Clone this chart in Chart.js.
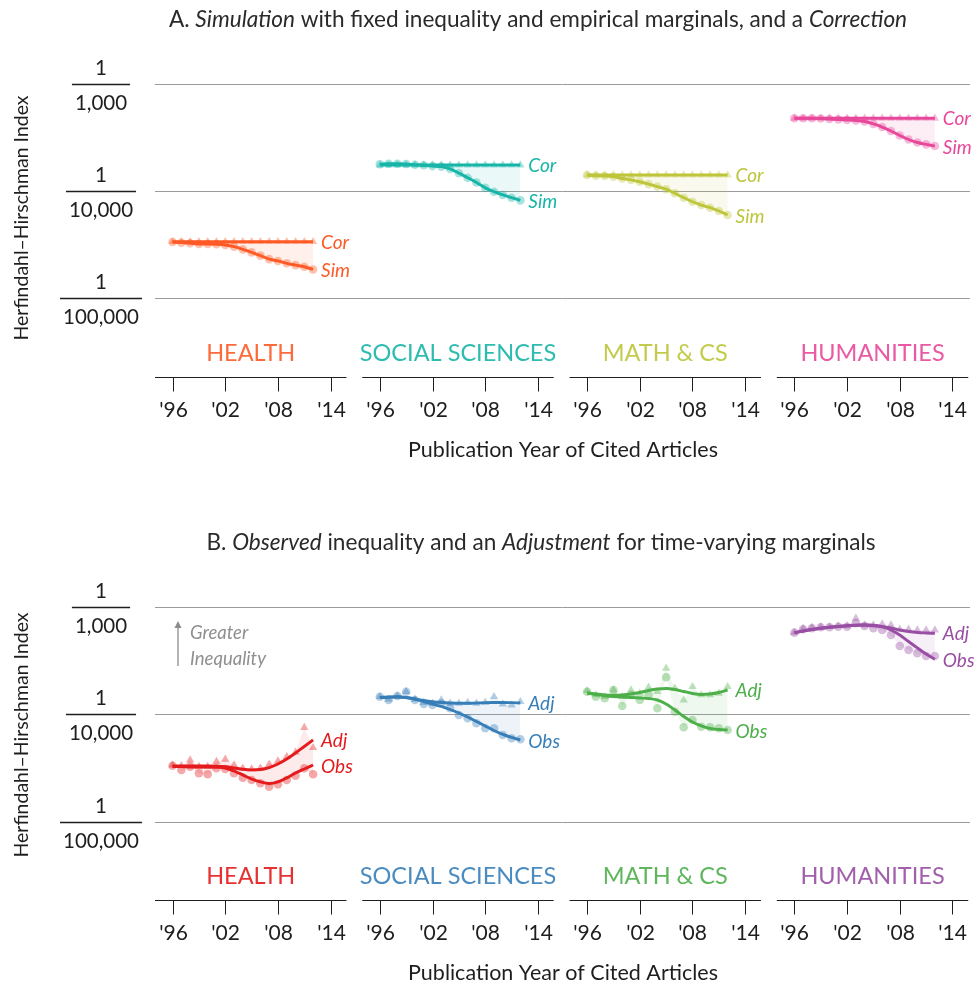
<!DOCTYPE html>
<html><head><meta charset="utf-8">
<script src="https://cdn.jsdelivr.net/npm/chart.js@4"></script>
<style>
html,body{margin:0;padding:0;background:#fff;}
#wrap{position:relative;width:977px;height:984px;overflow:hidden;}
canvas{position:absolute;left:0;}
</style></head><body>
<div id="wrap">
<canvas id="cA" width="977" height="490" style="top:0"></canvas>
<canvas id="cB" width="977" height="494" style="top:490px"></canvas>
</div>
<script>
// ---------- categories & ticks ----------
const years = [1996,1997,1998,1999,2000,2001,2002,2003,2004,2005,2006,2007,2008,2009,2010,2011,2012];
const fieldNames = ['HEALTH','SOCIAL SCIENCES','MATH & CS','HUMANITIES'];
const yearTicks = [1996,2002,2008,2014];
const yearTickLabels = ["'96","'02","'08","'14"];
const hhiTicks = [1e-3,1e-4,1e-5];
const hhiTickDenoms = ['1,000','10,000','100,000'];

// ---------- Panel A: Correction (triangles) & Simulation (circles) ----------
const corHealth = [3.36e-5,3.36e-5,3.36e-5,3.36e-5,3.36e-5,3.36e-5,3.36e-5,3.36e-5,3.36e-5,3.36e-5,3.36e-5,3.36e-5,3.36e-5,3.36e-5,3.36e-5,3.36e-5,3.36e-5];
const simHealth = [3.34e-5,3.29e-5,3.25e-5,3.20e-5,3.20e-5,3.18e-5,3.13e-5,3.02e-5,2.85e-5,2.67e-5,2.49e-5,2.31e-5,2.22e-5,2.11e-5,2.03e-5,1.96e-5,1.85e-5];
const corSocial = [1.75e-4,1.75e-4,1.75e-4,1.75e-4,1.75e-4,1.75e-4,1.75e-4,1.75e-4,1.75e-4,1.75e-4,1.75e-4,1.75e-4,1.75e-4,1.75e-4,1.75e-4,1.75e-4,1.75e-4];
const simSocial = [1.78e-4,1.80e-4,1.80e-4,1.79e-4,1.76e-4,1.74e-4,1.71e-4,1.69e-4,1.61e-4,1.47e-4,1.33e-4,1.20e-4,1.07e-4,9.85e-5,9.18e-5,8.66e-5,8.18e-5];
const corMath = [1.41e-4,1.41e-4,1.41e-4,1.41e-4,1.41e-4,1.41e-4,1.41e-4,1.41e-4,1.41e-4,1.41e-4,1.41e-4,1.41e-4,1.41e-4,1.41e-4,1.41e-4,1.41e-4,1.41e-4];
const simMath = [1.41e-4,1.39e-4,1.38e-4,1.36e-4,1.31e-4,1.27e-4,1.22e-4,1.16e-4,1.10e-4,1.04e-4,9.52e-5,8.66e-5,7.94e-5,7.40e-5,6.98e-5,6.50e-5,5.97e-5];
const corHum = [4.78e-4,4.78e-4,4.78e-4,4.78e-4,4.78e-4,4.78e-4,4.78e-4,4.78e-4,4.78e-4,4.78e-4,4.78e-4,4.78e-4,4.78e-4,4.78e-4,4.78e-4,4.78e-4,4.78e-4];
const simHum = [4.78e-4,4.78e-4,4.78e-4,4.76e-4,4.71e-4,4.66e-4,4.61e-4,4.56e-4,4.46e-4,4.23e-4,3.96e-4,3.64e-4,3.30e-4,3.03e-4,2.84e-4,2.73e-4,2.63e-4];

// ---------- Panel B: Adjustment (triangles) & Observed (circles), plus smooth fits ----------
const adjHealth = [3.39e-5,3.34e-5,3.77e-5,3.27e-5,3.27e-5,3.64e-5,3.83e-5,3.39e-5,3.16e-5,3.11e-5,3.16e-5,3.44e-5,3.69e-5,4.05e-5,4.45e-5,7.54e-5,4.91e-5];
const obsHealth = [3.34e-5,3.05e-5,3.27e-5,2.84e-5,2.78e-5,3.16e-5,3.11e-5,2.84e-5,2.58e-5,2.46e-5,2.29e-5,2.13e-5,2.24e-5,2.46e-5,2.70e-5,3.16e-5,2.78e-5];
const adjHealthFit = [3.32e-5,3.32e-5,3.32e-5,3.32e-5,3.32e-5,3.30e-5,3.26e-5,3.18e-5,3.09e-5,3.05e-5,3.08e-5,3.21e-5,3.46e-5,3.85e-5,4.38e-5,5.04e-5,5.79e-5];
const obsHealthFit = [3.28e-5,3.27e-5,3.25e-5,3.25e-5,3.25e-5,3.23e-5,3.18e-5,2.98e-5,2.74e-5,2.51e-5,2.36e-5,2.28e-5,2.36e-5,2.57e-5,2.86e-5,3.11e-5,3.39e-5];

const adjSocial = [1.464e-4,1.385e-4,1.486e-4,1.630e-4,1.385e-4,1.288e-4,1.271e-4,1.364e-4,1.271e-4,1.271e-4,1.288e-4,1.271e-4,1.288e-4,1.464e-4,1.252e-4,1.226e-4,1.315e-4];
const obsSocial = [1.464e-4,1.364e-4,1.486e-4,1.630e-4,1.364e-4,1.252e-4,1.226e-4,1.271e-4,1.142e-4,9.89e-5,9.22e-5,8.28e-5,7.44e-5,7.44e-5,6.45e-5,6.01e-5,5.88e-5];
const adjSocialFit = [1.439e-4,1.455e-4,1.464e-4,1.439e-4,1.394e-4,1.349e-4,1.315e-4,1.293e-4,1.279e-4,1.271e-4,1.271e-4,1.279e-4,1.288e-4,1.293e-4,1.293e-4,1.288e-4,1.279e-4];
const obsSocialFit = [1.439e-4,1.445e-4,1.455e-4,1.439e-4,1.394e-4,1.321e-4,1.252e-4,1.187e-4,1.113e-4,1.033e-4,9.48e-5,8.61e-5,7.82e-5,7.10e-5,6.52e-5,6.11e-5,5.79e-5];

const adjMath = [1.665e-4,1.519e-4,1.464e-4,1.690e-4,1.464e-4,1.690e-4,1.575e-4,1.791e-4,1.630e-4,2.690e-4,1.753e-4,1.364e-4,1.814e-4,1.519e-4,1.519e-4,1.575e-4,1.814e-4];
const obsMath = [1.630e-4,1.464e-4,1.415e-4,1.690e-4,1.200e-4,1.519e-4,1.364e-4,1.519e-4,1.142e-4,2.218e-4,1.062e-4,7.60e-5,8.89e-5,7.70e-5,7.60e-5,7.44e-5,7.17e-5];
const adjMathFit = [1.595e-4,1.551e-4,1.519e-4,1.508e-4,1.519e-4,1.551e-4,1.602e-4,1.672e-4,1.726e-4,1.745e-4,1.708e-4,1.637e-4,1.568e-4,1.535e-4,1.551e-4,1.602e-4,1.690e-4];
const obsMathFit = [1.575e-4,1.535e-4,1.496e-4,1.471e-4,1.455e-4,1.439e-4,1.424e-4,1.409e-4,1.364e-4,1.252e-4,1.101e-4,9.58e-5,8.52e-5,7.82e-5,7.41e-5,7.25e-5,7.17e-5];

const adjHum = [5.77e-4,6.34e-4,6.48e-4,6.56e-4,6.56e-4,6.66e-4,6.66e-4,7.85e-4,6.80e-4,6.80e-4,6.95e-4,6.80e-4,6.20e-4,6.20e-4,6.11e-4,6.11e-4,6.11e-4];
const obsHum = [5.77e-4,6.20e-4,6.34e-4,6.48e-4,6.48e-4,6.56e-4,6.56e-4,7.05e-4,6.66e-4,6.34e-4,6.11e-4,5.49e-4,4.34e-4,3.98e-4,3.71e-4,3.50e-4,3.50e-4];
const adjHumFit = [5.77e-4,5.98e-4,6.18e-4,6.34e-4,6.48e-4,6.59e-4,6.70e-4,6.77e-4,6.80e-4,6.76e-4,6.61e-4,6.38e-4,6.11e-4,5.92e-4,5.79e-4,5.73e-4,5.69e-4];
const obsHumFit = [5.77e-4,5.98e-4,6.18e-4,6.34e-4,6.48e-4,6.59e-4,6.70e-4,6.77e-4,6.80e-4,6.73e-4,6.52e-4,6.11e-4,5.49e-4,4.78e-4,4.16e-4,3.65e-4,3.26e-4];

// ---------- styling / layout ----------
const FONT = 'Lato, "Open Sans", "DejaVu Sans", sans-serif';
const TEXT = '#1e1e1e';
const FIELD_SHIFT = 23.6;   // horizontal offset (in year units) between the four small panels
const colorsA = ['#FF5A26','#17B5A8','#BDC53A','#E8489A'];
const colorsB = ['#E41A1C','#377EB8','#4DAF4A','#984EA3'];

function rgba(hex,a){const n=parseInt(hex.slice(1),16);return `rgba(${n>>16&255},${n>>8&255},${n&255},${a})`;}
function xy(arr,i){return years.map((yr,k)=>({x:yr+i*FIELD_SHIFT,y:arr[k]}));}

function buildDatasets(fields, colors){
  const ds=[];
  fields.forEach((f,i)=>{
    const c=colors[i];
    const upIdx=ds.length;
    ds.push({data:xy(f.upPts,i),showLine:true,borderWidth:0,tension:0,pointStyle:'triangle',pointRadius:4.8,
      pointBackgroundColor:rgba(c,0.38),pointBorderWidth:0,fill:false,order:3});
    ds.push({data:xy(f.loPts,i),showLine:true,borderWidth:0,tension:0,pointStyle:'circle',pointRadius:4.3,
      pointBackgroundColor:rgba(c,0.38),pointBorderWidth:0,fill:{target:upIdx},backgroundColor:rgba(c,0.09),order:4});
    ds.push({data:xy(f.upLine,i),borderColor:c,borderWidth:2.9,pointRadius:0,fill:false,cubicInterpolationMode:'monotone',order:1});
    ds.push({data:xy(f.loLine,i),borderColor:c,borderWidth:2.9,pointRadius:0,fill:false,cubicInterpolationMode:'monotone',order:1});
  });
  return ds;
}

function drawMixed(ctx, parts, cx, cy, size){
  let total=0;
  parts.forEach(p=>{ctx.font=`${p[1]?'italic ':''}${size}px ${FONT}`;total+=ctx.measureText(p[0]).width;});
  let x=cx-total/2;
  ctx.textAlign='left';ctx.textBaseline='middle';
  parts.forEach(p=>{ctx.font=`${p[1]?'italic ':''}${size}px ${FONT}`;ctx.fillText(p[0],x,cy);x+=ctx.measureText(p[0]).width;});
}

function decoPlugin(P){
  return {
    id:'deco',
    beforeDatasetsDraw(chart){
      const {ctx,chartArea:a,scales:{y}}=chart;
      ctx.save();ctx.strokeStyle='#9b9b9b';ctx.lineWidth=1;
      hhiTicks.forEach(v=>{const py=Math.round(y.getPixelForValue(v))+0.5;ctx.beginPath();ctx.moveTo(a.left,py);ctx.lineTo(a.right,py);ctx.stroke();});
      ctx.restore();
    },
    afterDraw(chart){
      const {ctx,chartArea:a,scales:{x,y}}=chart;
      ctx.save();
      ctx.fillStyle=TEXT;ctx.strokeStyle=TEXT;
      // title
      ctx.fillStyle='#2a2a2a';
      drawMixed(ctx,P.title,P.titleX,P.titleY,22.6);
      // y-axis title
      ctx.save();ctx.translate(22,P.yTitleY);ctx.rotate(-Math.PI/2);
      ctx.font=`19.5px ${FONT}`;ctx.textAlign='center';ctx.textBaseline='middle';ctx.fillStyle=TEXT;
      ctx.fillText('Herfindahl\u2013Hirschman Index',0,0);ctx.restore();
      // fraction tick labels
      ctx.font=`20.5px ${FONT}`;ctx.textAlign='center';ctx.textBaseline='middle';ctx.fillStyle=TEXT;
      hhiTicks.forEach((v,k)=>{
        const py=Math.round(y.getPixelForValue(v))+0.5;
        const w=ctx.measureText(hhiTickDenoms[k]).width;
        ctx.lineWidth=1.5;ctx.beginPath();ctx.moveTo(101-w/2-3,py);ctx.lineTo(101+w/2+3,py);ctx.stroke();
        ctx.fillText('1',101,py-16);
        ctx.fillText(hhiTickDenoms[k],101,py+19);
      });
      // x axes for the four fields
      const base=Math.round(a.bottom)+0.5;
      fieldNames.forEach((name,i)=>{
        const x0=x.getPixelForValue(1994+i*FIELD_SHIFT), x1=x.getPixelForValue(2015.8+i*FIELD_SHIFT);
        ctx.strokeStyle=TEXT;ctx.lineWidth=1;
        ctx.beginPath();ctx.moveTo(x0,base);ctx.lineTo(x1,base);ctx.stroke();
        ctx.font=`21px ${FONT}`;ctx.textAlign='center';ctx.textBaseline='middle';ctx.fillStyle=TEXT;
        yearTicks.forEach((yr,k)=>{
          const px=Math.round(x.getPixelForValue(yr+i*FIELD_SHIFT))+0.5;
          ctx.beginPath();ctx.moveTo(px,base);ctx.lineTo(px,base+14);ctx.stroke();
          ctx.fillText(yearTickLabels[k],px,base+33);
        });
        ctx.font=`23.5px ${FONT}`;ctx.fillStyle=rgba(P.colors[i],0.9);
        ctx.fillText(name,x.getPixelForValue(2004.9+i*FIELD_SHIFT),base-24);
        // series end labels
        const f=P.fields[i];
        const ex=x.getPixelForValue(2012+i*FIELD_SHIFT)+8;
        ctx.font=`italic 19px ${FONT}`;ctx.textAlign='left';ctx.fillStyle=P.colors[i];
        ctx.fillText(P.labels[0],ex,y.getPixelForValue(f.upLine[16])+1);
        ctx.fillText(P.labels[1],ex,y.getPixelForValue(f.loLine[16])+1.5);
      });
      // x-axis title
      ctx.font=`21.5px ${FONT}`;ctx.textAlign='center';ctx.fillStyle=TEXT;
      ctx.fillText('Publication Year of Cited Articles',563,base+73);
      if(P.arrow){
        ctx.strokeStyle='#8c8c8c';ctx.fillStyle='#8c8c8c';ctx.lineWidth=1.3;
        ctx.beginPath();ctx.moveTo(178,176);ctx.lineTo(178,135);ctx.stroke();
        ctx.beginPath();ctx.moveTo(178,131);ctx.lineTo(174.5,138);ctx.lineTo(181.5,138);ctx.closePath();ctx.fill();
        ctx.font=`italic 18.5px ${FONT}`;ctx.textAlign='left';ctx.fillStyle='#8f8f8f';
        ctx.fillText('Greater',190,143);ctx.fillText('Inequality',190,169);
      }
      ctx.restore();
    }
  };
}

function makeChart(id,P){
  new Chart(document.getElementById(id),{
    type:'line',
    data:{datasets:buildDatasets(P.fields,P.colors)},
    options:{
      responsive:false,animation:false,events:[],
      layout:{padding:{left:155,right:7,top:P.top,bottom:P.bottom}},
      plugins:{legend:{display:false},tooltip:{enabled:false}},
      scales:{
        x:{type:'linear',display:false,min:1994,max:2086.8},
        y:{type:'logarithmic',display:false,min:P.ymin,max:1e-3}
      }
    },
    plugins:[decoPlugin(P)]
  });
}

makeChart('cA',{
  fields:[
    {upPts:corHealth,loPts:simHealth,upLine:corHealth,loLine:simHealth},
    {upPts:corSocial,loPts:simSocial,upLine:corSocial,loLine:simSocial},
    {upPts:corMath,loPts:simMath,upLine:corMath,loLine:simMath},
    {upPts:corHum,loPts:simHum,upLine:corHum,loLine:simHum}],
  colors:colorsA,labels:['Cor','Sim'],
  title:[['A. ',false],['Simulation',true],[' with fixed inequality and empirical marginals, and a ',false],['Correction',true]],
  titleX:538,titleY:20,yTitleY:218,top:84,bottom:113,ymin:1.828e-6,arrow:false
});
makeChart('cB',{
  fields:[
    {upPts:adjHealth,loPts:obsHealth,upLine:adjHealthFit,loLine:obsHealthFit},
    {upPts:adjSocial,loPts:obsSocial,upLine:adjSocialFit,loLine:obsSocialFit},
    {upPts:adjMath,loPts:obsMath,upLine:adjMathFit,loLine:obsMathFit},
    {upPts:adjHum,loPts:obsHum,upLine:adjHumFit,loLine:obsHumFit}],
  colors:colorsB,labels:['Adj','Obs'],
  title:[['B. ',false],['Observed',true],[' inequality and an ',false],['Adjustment',true],[' for time-varying marginals',false]],
  titleX:541,titleY:53,yTitleY:245,top:117,bottom:84,ymin:1.88e-6,arrow:true
});
</script>
</body></html>
